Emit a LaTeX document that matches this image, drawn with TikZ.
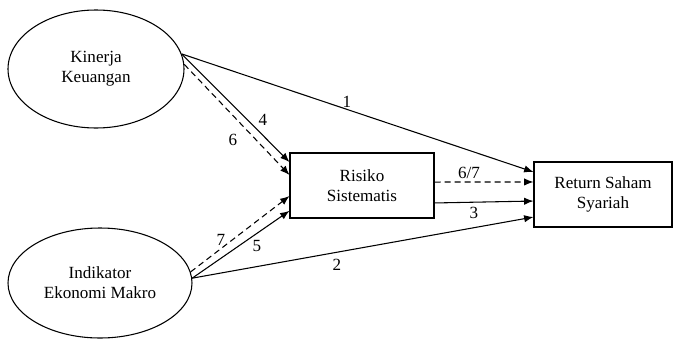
\documentclass[tikz,border=0pt]{standalone}
\usepackage{fontspec}
\setmainfont{Liberation Serif}
\usetikzlibrary{shapes.geometric,arrows.meta}

\begin{document}
\begin{tikzpicture}[x=0.75pt, y=-0.75pt, line width=0.8pt,
	every node/.style={font=\rmfamily\fontsize{12.8}{15}\selectfont, align=center},
	>={Latex[length=7pt, width=5.5pt]},
	konstruk/.style={draw, ellipse, inner sep=0pt},
	kotak/.style={draw, rectangle, minimum width=108pt, minimum height=48.75pt},
	putus/.style={->, dash pattern=on 4.5pt off 3pt},
	jalur/.style={->},
	lbl/.style={inner sep=1pt}]
	\useasboundingbox (0,0) rectangle (673,339);
	\node[konstruk, minimum width=132pt, minimum height=88.5pt] (KK) at (96,69) {Kinerja\\Keuangan};
	\node[konstruk, minimum width=138pt, minimum height=82.5pt] (IEM) at (100,283) {Indikator\\Ekonomi Makro};
	\node[kotak] (RS) at (362,185.5) {Risiko\\Sistematis};
	\node[kotak, minimum width=103.5pt] (RSS) at (603,194.5) {Return Saham\\Syariah};
	\draw[jalur] (KK.10) -- ([yshift=16.9pt]RSS.west);
	\draw[jalur] (KK.10) -- ([yshift=17.6pt]RS.west);
	\draw[putus] (KK.3) -- ([yshift=7.9pt]RS.west);
	\draw[putus] (IEM.7) -- ([yshift=-7.9pt]RS.west);
	\draw[jalur] (IEM.3) -- ([yshift=-19pt]RS.west);
	\draw[jalur] (IEM.3) -- ([yshift=-16.9pt]RSS.west);
	\draw[putus] ([yshift=2.6pt]RS.east) -- ([yshift=9.4pt]RSS.west);
	\draw[jalur] ([yshift=-13.1pt]RS.east) -- ([yshift=-4.9pt]RSS.west);
	\node[lbl] (n1) at (347,102) {1};
	\node[lbl] (n4) at (263,120) {4};
	\node[lbl] (n6) at (233,140) {6};
	\node[lbl] (n7) at (221,240) {7};
	\node[lbl] (n5) at (257,246) {5};
	\node[lbl] (n2) at (337,265) {2};
	\node[lbl] (n67) at (469,173) {6/7};
	\node[lbl] (n3) at (474,213) {3};
\end{tikzpicture}
\end{document}
